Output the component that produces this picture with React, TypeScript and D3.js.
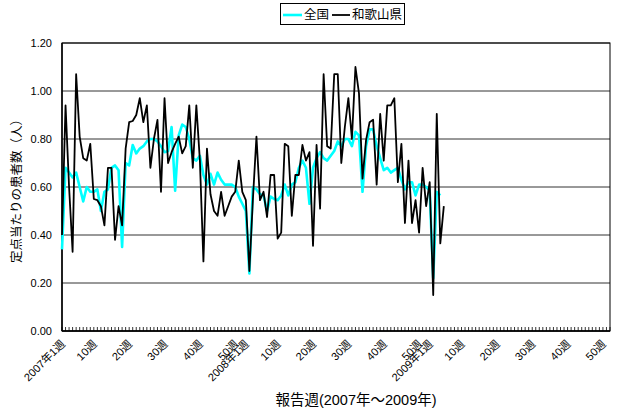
import React from 'react';
import * as d3 from 'd3';

// 報告週の並び（各年52週）
const years = [2007, 2008, 2009];
const weeksPerYear = 52;
const labeledWeeks = [1, 10, 20, 30, 40, 50];
const yTicks = [0, 0.2, 0.4, 0.6, 0.8, 1.0, 1.2];

// 全国（2007年1週〜）
const national = [
  0.34, 0.68, 0.66, 0.64, 0.66, 0.60, 0.54, 0.60, 0.58, 0.58,
  0.59, 0.50, 0.58, 0.59, 0.68, 0.69, 0.67, 0.35, 0.70, 0.69,
  0.775, 0.74, 0.76, 0.77, 0.79, 0.80, 0.80, 0.79, 0.77, 0.745,
  0.75, 0.85, 0.585, 0.815, 0.86, 0.85, 0.80, 0.72, 0.71, 0.73,
  0.65, 0.61, 0.655, 0.61, 0.66, 0.63, 0.61, 0.61, 0.61, 0.60,
  0.56, 0.53, 0.50, 0.24, 0.60, 0.59, 0.57, 0.565, 0.50, 0.56,
  0.55, 0.545, 0.565, 0.61, 0.565, 0.61, 0.62, 0.68, 0.71, 0.68,
  0.53, 0.68, 0.72, 0.745, 0.72, 0.71, 0.73, 0.75, 0.79, 0.77,
  0.80, 0.80, 0.77, 0.83, 0.815, 0.58, 0.77, 0.84, 0.84, 0.77,
  0.72, 0.67, 0.68, 0.66, 0.67, 0.68, 0.63, 0.59, 0.62, 0.62,
  0.565, 0.61, 0.61, 0.60, 0.585, 0.22, 0.58, 0.565,
];

// 和歌山県
const wakayama = [
  0.40, 0.94, 0.60, 0.33, 1.07, 0.81, 0.72, 0.71, 0.78, 0.55,
  0.545, 0.52, 0.44, 0.68, 0.68, 0.38, 0.52, 0.44, 0.76, 0.87,
  0.875, 0.90, 0.97, 0.87, 0.94, 0.68, 0.80, 0.88, 0.58, 0.97,
  0.70, 0.745, 0.78, 0.81, 0.74, 0.77, 0.94, 0.68, 0.94, 0.71,
  0.29, 0.76, 0.57, 0.50, 0.48, 0.58, 0.48, 0.52, 0.56, 0.58,
  0.71, 0.58, 0.545, 0.25, 0.55, 0.81, 0.545, 0.58, 0.475, 0.65,
  0.65, 0.385, 0.41, 0.78, 0.77, 0.48, 0.65, 0.65, 0.775, 0.71,
  0.745, 0.355, 0.775, 0.51, 1.07, 0.77, 0.76, 1.07, 1.07, 0.70,
  0.85, 0.97, 0.80, 1.10, 0.99, 0.635, 0.795, 0.87, 0.88, 0.61,
  0.905, 0.71, 0.94, 0.94, 0.97, 0.62, 0.78, 0.45, 0.71, 0.45,
  0.545, 0.41, 0.68, 0.52, 0.62, 0.15, 0.905, 0.365, 0.52,
];

const W = 620;
const H = 409;
const plot = { left: 62, right: 610, top: 43, bottom: 331 };
const font = '"Liberation Sans", Arial, "Noto Sans CJK JP", sans-serif';

const App: React.FC = () => {
  const n = years.length * weeksPerYear;
  const x = d3.scaleLinear().domain([0, n - 1]).range([plot.left, plot.right]);
  const y = d3.scaleLinear().domain([0, 1.2]).range([plot.bottom, plot.top]);

  const line = d3.line<number>()
    .x((_, i) => x(i))
    .y(d => y(d));

  // 目盛ラベル
  const tickLabels: { i: number; text: string }[] = [];
  years.forEach((yr, yi) => {
    labeledWeeks.forEach(w => {
      tickLabels.push({
        i: yi * weeksPerYear + (w - 1),
        text: w === 1 ? `${yr}年1週` : `${w}週`,
      });
    });
  });

  return (
    <svg width={W} height={H} style={{ position: 'absolute', left: 0, top: 0, background: '#fff' }}
      fontFamily={font}>
      {/* grid */}
      {yTicks.map(t => (
        <line key={t} x1={plot.left} x2={plot.right} y1={y(t)} y2={y(t)}
          stroke="#333" strokeWidth={1} />
      ))}
      <rect x={plot.left} y={plot.top} width={plot.right - plot.left}
        height={plot.bottom - plot.top} fill="none" stroke="#000" strokeWidth={1} />
      <line x1={plot.left} x2={plot.left} y1={plot.top} y2={plot.bottom} stroke="#000" strokeWidth={1.5} />
      <line x1={plot.left} x2={plot.right} y1={plot.bottom} y2={plot.bottom} stroke="#000" strokeWidth={1.5} />

      {/* minor ticks */}
      {d3.range(n).map(i => (
        <line key={i} x1={x(i)} x2={x(i)} y1={plot.bottom} y2={plot.bottom - 4} stroke="#000" strokeWidth={0.8} />
      ))}

      {/* series */}
      <path d={line(national) || ''} fill="none" stroke="#00ffff" strokeWidth={2.6} strokeLinejoin="round" />
      <path d={line(wakayama) || ''} fill="none" stroke="#000" strokeWidth={1.8} strokeLinejoin="round" />

      {/* y axis labels */}
      {yTicks.map(t => (
        <text key={t} x={52} y={y(t)} dy="0.35em" textAnchor="end" fontSize={11}>
          {t.toFixed(2)}
        </text>
      ))}
      <text transform={`translate(17, 188) rotate(-90)`}
        textAnchor="middle" dy="0.35em" fontSize={12.5}>
        定点当たりの患者数（人）
      </text>

      {/* x axis labels */}
      {tickLabels.map(d => (
        <text key={d.i} transform={`translate(${x(d.i) + 1}, 342) rotate(-45)`}
          textAnchor="end" dy="0.35em" fontSize={11}>
          {d.text}
        </text>
      ))}
      <text x={356} y={405} textAnchor="middle" fontSize={14.5}>
        報告週(2007年～2009年)
      </text>

      {/* legend */}
      <rect x={280.5} y={3.5} width={124} height={21} fill="#fff" stroke="#000" strokeWidth={1} />
      <line x1={283} x2={302} y1={15} y2={15} stroke="#00ffff" strokeWidth={2.6} />
      <text x={304} y={15} dy="0.35em" fontSize={12.5}>全国</text>
      <line x1={332} x2={350} y1={15} y2={15} stroke="#000" strokeWidth={1.8} />
      <text x={352} y={15} dy="0.35em" fontSize={12.5}>和歌山県</text>
    </svg>
  );
};

export default App;
